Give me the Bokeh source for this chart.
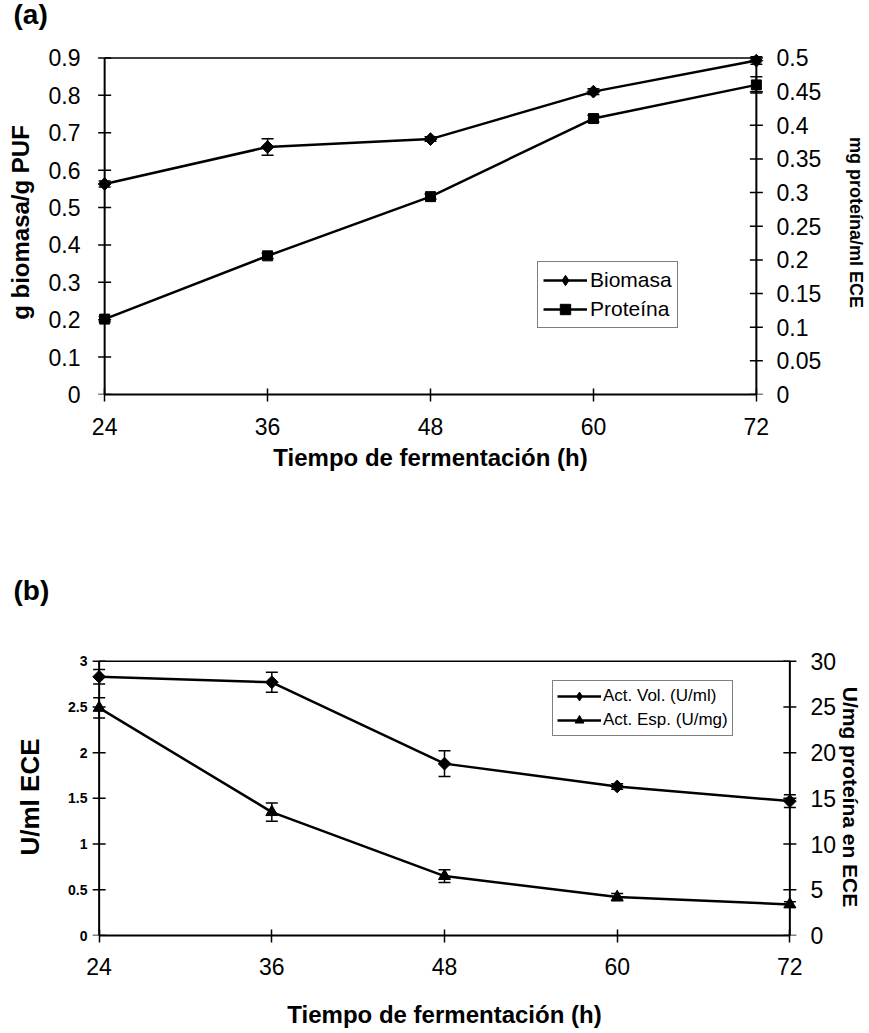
import math
from bokeh.plotting import figure
from bokeh.models import (Range1d, LinearAxis, FixedTicker, Whisker, ColumnDataSource,
                          TeeHead, Legend, LegendItem, Label)
from bokeh.layouts import column
from bokeh.embed import file_html
from bokeh.resources import INLINE

# ---------------- data ----------------
hours = [24, 36, 48, 60, 72]

# panel (a)
biomasa = [0.563, 0.662, 0.683, 0.810, 0.893]
biomasa_err = [0.008, 0.022, 0.006, 0.008, 0.010]
proteina = [0.112, 0.206, 0.294, 0.410, 0.460]
proteina_err = [0.004, 0.004, 0.004, 0.005, 0.012]

# panel (b)
act_vol = [2.83, 2.77, 1.88, 1.63, 1.47]
act_vol_err = [0.08, 0.11, 0.14, 0.03, 0.07]
act_esp = [24.9, 13.5, 6.5, 4.2, 3.4]
act_esp_err = [1.1, 1.0, 0.7, 0.4, 0.3]

a_left_ticks = [0, 0.1, 0.2, 0.3, 0.4, 0.5, 0.6, 0.7, 0.8, 0.9]
a_left_labels = ["0", "0.1", "0.2", "0.3", "0.4", "0.5", "0.6", "0.7", "0.8", "0.9"]
a_right_ticks = [0, 0.05, 0.1, 0.15, 0.2, 0.25, 0.3, 0.35, 0.4, 0.45, 0.5]
a_right_labels = ["0", "0.05", "0.1", "0.15", "0.2", "0.25", "0.3", "0.35", "0.4", "0.45", "0.5"]
b_left_ticks = [0, 0.5, 1, 1.5, 2, 2.5, 3]
b_left_labels = ["0", "0.5", "1", "1.5", "2", "2.5", "3"]
b_right_ticks = [0, 5, 10, 15, 20, 25, 30]
b_right_labels = ["0", "5", "10", "15", "20", "25", "30"]
x_labels = ["24", "36", "48", "60", "72"]

FONT = "Liberation Sans"
W = 869


def style_axis(ax, ticks, labels, bounds, lab_size, lab_style, standoff, draw_line=True):
    ax.ticker = FixedTicker(ticks=ticks)
    ax.major_label_overrides = {t: l for t, l in zip(ticks, labels)}
    ax.bounds = bounds
    if draw_line:
        ax.axis_line_width = 2
        ax.axis_line_color = "black"
        ax.major_tick_line_width = 1.5
        ax.major_tick_line_color = "black"
        ax.major_tick_in = 6
        ax.major_tick_out = 7
    else:
        ax.axis_line_color = None
        ax.major_tick_line_color = None
        ax.major_tick_in = 0
        ax.major_tick_out = 0
    ax.minor_tick_line_color = None
    ax.major_label_text_font = FONT
    ax.major_label_text_font_size = lab_size
    ax.major_label_text_font_style = lab_style
    ax.major_label_text_color = "black"
    ax.major_label_standoff = standoff
    ax.axis_label_text_font = FONT
    ax.axis_label_text_font_style = "bold"
    ax.axis_label_text_color = "black"


def draw_vaxis(p, xpos, ticks, range_name="default"):
    # axis line and crossing tick marks drawn at a data x position
    p.line(x=[xpos, xpos], y=[ticks[0], ticks[-1]], line_color="black", line_width=2,
           y_range_name=range_name)
    p.scatter(x=[xpos] * len(ticks), y=ticks, marker="dash", size=13, line_width=1.5,
              line_color="black", y_range_name=range_name)


def make_whisker(xs, ys, errs, range_name="default"):
    src = ColumnDataSource(dict(x=xs,
                                upper=[y + e for y, e in zip(ys, errs)],
                                lower=[y - e for y, e in zip(ys, errs)]))
    return Whisker(source=src, base="x", upper="upper", lower="lower", dimension="height",
                   line_width=1.5, line_color="black", y_range_name=range_name,
                   upper_head=TeeHead(size=12, line_width=1.5, line_color="black"),
                   lower_head=TeeHead(size=12, line_width=1.5, line_color="black"))


def base_fig(height, left, right, top, bottom, ytop, right_top):
    p = figure(width=W, height=height, output_backend="svg", toolbar_location=None,
               x_range=Range1d(hours[0] - pad_x, hours[-1] + pad_x),
               y_range=Range1d(0, ytop),
               min_border_left=left, min_border_right=right,
               min_border_top=top, min_border_bottom=bottom)
    p.frame_align = False
    p.extra_y_ranges = {"right": Range1d(0, right_top)}
    p.outline_line_color = None
    p.xgrid.visible = False
    p.ygrid.visible = False
    p.background_fill_color = "white"
    p.border_fill_color = "white"
    return p


def header(height, text, ypos):
    h = figure(width=W, height=height, output_backend="svg", toolbar_location=None,
               x_axis_type=None, y_axis_type=None,
               x_range=Range1d(0, W), y_range=Range1d(0, height), min_border=0)
    h.frame_align = False
    h.outline_line_color = None
    h.background_fill_color = "white"
    h.border_fill_color = "white"
    h.add_layout(Label(x=13, y=ypos, text=text, text_font=FONT, text_font_size="28px",
                       text_font_style="bold", text_baseline="middle", text_align="left",
                       text_color="black"))
    return h


def style_legend(leg, size, gh, pad, spacing, standoff):
    leg.label_text_font = FONT
    leg.label_text_font_size = size
    leg.label_text_color = "black"
    leg.glyph_width = 44
    leg.glyph_height = gh
    leg.label_height = gh
    leg.label_standoff = standoff
    leg.padding = pad
    leg.spacing = spacing
    leg.margin = 0
    leg.border_line_color = "black"
    leg.border_line_width = 1.5
    leg.background_fill_alpha = 1


pad_x = 0.6
DIAMOND_ANGLE = math.pi / 4

# ---------------- panel (a) ----------------
h1 = header(34, "(a)", 20)

a_top = a_left_ticks[-1] + 0.02
p1 = base_fig(456, 96, 103, 16, 96, a_top, a_top * a_right_ticks[-1] / a_left_ticks[-1])

style_axis(p1.xaxis[0], hours, x_labels, (hours[0], hours[-1]), "23px", "normal", 16)
p1.xaxis.axis_label = "Tiempo de fermentación (h)"
p1.xaxis.axis_label_text_font_size = "24px"
p1.xaxis.axis_label_standoff = 6

style_axis(p1.yaxis[0], a_left_ticks, a_left_labels, (a_left_ticks[0], a_left_ticks[-1]),
           "23px", "normal", 16, draw_line=False)
p1.yaxis.axis_label = "g biomasa/g PUF"
p1.yaxis.axis_label_text_font_size = "24px"
p1.yaxis.axis_label_standoff = 12

ax_r1 = LinearAxis(y_range_name="right")
style_axis(ax_r1, a_right_ticks, a_right_labels, (a_right_ticks[0], a_right_ticks[-1]),
           "23px", "normal", 12, draw_line=False)
ax_r1.axis_label = "mg proteína/ml ECE"
ax_r1.axis_label_text_font_size = "18px"
ax_r1.axis_label_standoff = 22
p1.add_layout(ax_r1, "right")

draw_vaxis(p1, hours[0], a_left_ticks)
draw_vaxis(p1, hours[-1], a_right_ticks, "right")
p1.line(x=[hours[0], hours[-1]], y=[a_left_ticks[-1], a_left_ticks[-1]],
        line_color="black", line_width=1.5)

p1.add_layout(make_whisker(hours, biomasa, biomasa_err))
p1.add_layout(make_whisker(hours, proteina, proteina_err, "right"))

l_bio = p1.line(hours, biomasa, line_color="black", line_width=2.5)
# plain diamond (used for the legend glyph), covered by the rotated square
d_bio = p1.scatter(hours, biomasa, marker="diamond", size=11, fill_color="black", line_color="black")
p1.scatter(hours, biomasa, marker="square", angle=DIAMOND_ANGLE, size=9,
           fill_color="black", line_color="black")
l_pro = p1.line(hours, proteina, line_color="black", line_width=2.5, y_range_name="right")
s_pro = p1.scatter(hours, proteina, marker="square", size=10, fill_color="black",
                   line_color="black", y_range_name="right")

leg1 = Legend(items=[LegendItem(label="Biomasa", renderers=[l_bio, d_bio]),
                     LegendItem(label="Proteína", renderers=[l_pro, s_pro])],
              location=(441, 66))
style_legend(leg1, "21px", 26, 5, 3, 3)
p1.add_layout(leg1)

# ---------------- panel (b) ----------------
h2 = header(120, "(b)", 20)

b_top = b_left_ticks[-1] + 0.03
p2 = base_fig(423, 90, 71, 48, 98, b_top, b_top * b_right_ticks[-1] / b_left_ticks[-1])

style_axis(p2.xaxis[0], hours, x_labels, (hours[0], hours[-1]), "23px", "normal", 15)
p2.xaxis.axis_label = "Tiempo de fermentación (h)"
p2.xaxis.axis_label_text_font_size = "24px"
p2.xaxis.axis_label_standoff = 23

style_axis(p2.yaxis[0], b_left_ticks, b_left_labels, (b_left_ticks[0], b_left_ticks[-1]),
           "14px", "bold", 3, draw_line=False)
p2.yaxis.axis_label = "U/ml ECE"
p2.yaxis.axis_label_text_font_size = "26px"
p2.yaxis.axis_label_standoff = 20

ax_r2 = LinearAxis(y_range_name="right")
style_axis(ax_r2, b_right_ticks, b_right_labels, (b_right_ticks[0], b_right_ticks[-1]),
           "23px", "normal", 12, draw_line=False)
ax_r2.axis_label = "U/mg proteína en ECE"
ax_r2.axis_label_text_font_size = "21px"
ax_r2.axis_label_standoff = 0
p2.add_layout(ax_r2, "right")

draw_vaxis(p2, hours[0], b_left_ticks)
draw_vaxis(p2, hours[-1], b_right_ticks, "right")
p2.line(x=[hours[0], hours[-1]], y=[b_left_ticks[-1], b_left_ticks[-1]],
        line_color="black", line_width=1.5)

p2.add_layout(make_whisker(hours, act_vol, act_vol_err))
p2.add_layout(make_whisker(hours, act_esp, act_esp_err, "right"))

l_vol = p2.line(hours, act_vol, line_color="black", line_width=2.5)
d_vol = p2.scatter(hours, act_vol, marker="diamond", size=11, fill_color="black", line_color="black")
p2.scatter(hours, act_vol, marker="square", angle=DIAMOND_ANGLE, size=9,
           fill_color="black", line_color="black")
l_esp = p2.line(hours, act_esp, line_color="black", line_width=2.5, y_range_name="right")
s_esp = p2.scatter(hours, act_esp, marker="triangle", size=12, fill_color="black",
                   line_color="black", y_range_name="right")

leg2 = Legend(items=[LegendItem(label="Act. Vol. (U/ml)", renderers=[l_vol, d_vol]),
                     LegendItem(label="Act. Esp. (U/mg)", renderers=[l_esp, s_esp])],
              location=(462, 199))
style_legend(leg2, "17px", 22, 4, 2, 2)
p2.add_layout(leg2)

layout = column(h1, p1, h2, p2, spacing=0)
open("out.html", "w").write(file_html(layout, INLINE))
